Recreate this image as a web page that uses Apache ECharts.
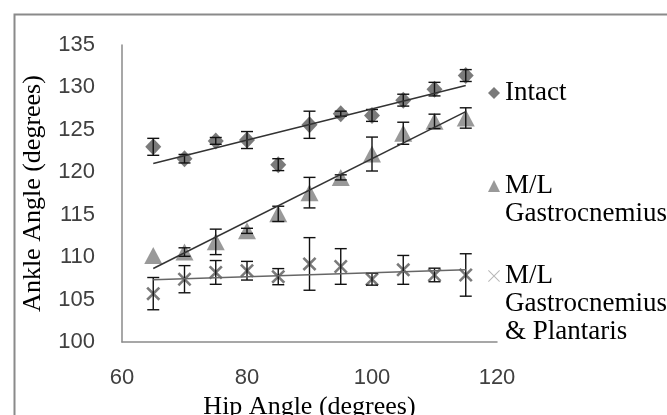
<!DOCTYPE html>
<html>
<head>
<meta charset="utf-8">
<script src="https://cdn.jsdelivr.net/npm/echarts@6/dist/echarts.min.js"></script>
<style>
  html, body { margin: 0; padding: 0; background: #fff; }
  #chart { width: 667px; height: 415px; }
</style>
</head>
<body>
<div id="chart"></div>
<script>
var hipAngles = [65, 70, 75, 80, 85, 90, 95, 100, 105, 110, 115];

var intactMean = [123.0, 121.6, 123.7, 123.8, 120.9, 125.6, 126.9, 126.7, 128.5, 129.8, 131.4];
var intactErr = [1.0, 0.5, 0.4, 1.0, 0.7, 1.6, 0.3, 0.7, 0.7, 0.8, 0.7];

var gastroMean = [110.2, 110.6, 111.8, 113.1, 115.1, 117.6, 119.4, 122.15, 124.6, 126.0, 126.4];
var gastroErr = [0, 0.5, 1.5, 0.3, 0.9, 1.8, 0.3, 2.0, 1.3, 0.85, 1.2];

var plantMean = [105.7, 107.4, 108.2, 108.4, 107.7, 109.2, 108.9, 107.4, 108.5, 107.9, 107.9];
var plantErr = [1.9, 1.6, 1.4, 1.1, 0.95, 3.1, 2.1, 0.7, 1.7, 0.8, 2.5];

var xTicks = [60, 80, 100, 120];
var yTicks = [100, 105, 110, 115, 120, 125, 130, 135];

var seriesNames = ['Intact', 'M/L Gastrocnemius', 'M/L Gastrocnemius & Plantaris'];

var xMarker = 'path://M0,1.3L1.3,0L5,3.7L8.7,0L10,1.3L6.3,5L10,8.7L8.7,10L5,6.3L1.3,10L0,8.7L3.7,5Z';
var xLegend = 'path://M0,0.6L0.6,0L5,4.4L9.4,0L10,0.6L5.6,5L10,9.4L9.4,10L5,5.6L0.6,10L0,9.4L4.4,5Z';

function points(ys) {
    return hipAngles.map(function (x, i) { return [x, ys[i]]; });
}

function errorData(ys, errs) {
    var out = [];
    hipAngles.forEach(function (x, i) {
        if (errs[i] > 0) out.push([x, ys[i] - errs[i], ys[i] + errs[i]]);
    });
    return out;
}

// least squares trendline, ends at first and last hip angle
function trend(ys) {
    var n = hipAngles.length, sx = 0, sy = 0, sxx = 0, sxy = 0;
    hipAngles.forEach(function (x, i) {
        sx += x; sy += ys[i]; sxx += x * x; sxy += x * ys[i];
    });
    var b = (n * sxy - sx * sy) / (n * sxx - sx * sx);
    var a = (sy - b * sx) / n;
    var x0 = hipAngles[0], x1 = hipAngles[n - 1];
    return [[x0, a + b * x0], [x1, a + b * x1]];
}

function renderError(params, api) {
    var x = api.value(0);
    var lo = api.coord([x, api.value(1)]);
    var hi = api.coord([x, api.value(2)]);
    var w = 6;
    var st = { stroke: '#111', lineWidth: 1.4 };
    return {
        type: 'group',
        children: [
            { type: 'line', shape: { x1: lo[0], y1: lo[1], x2: hi[0], y2: hi[1] }, style: st },
            { type: 'line', shape: { x1: hi[0] - w, y1: hi[1], x2: hi[0] + w, y2: hi[1] }, style: st },
            { type: 'line', shape: { x1: lo[0] - w, y1: lo[1], x2: lo[0] + w, y2: lo[1] }, style: st }
        ]
    };
}

function errSeries(ys, errs) {
    return {
        type: 'custom',
        renderItem: renderError,
        data: errorData(ys, errs),
        encode: { x: 0, y: [1, 2] },
        z: 4,
        silent: true
    };
}

function trendSeries(ys, color) {
    return {
        type: 'line',
        data: trend(ys),
        showSymbol: false,
        lineStyle: { color: color, width: 1.5 },
        z: 5,
        silent: true
    };
}

var serif = 'Liberation Serif';
var sans = 'Liberation Sans';

function legendBox(name, icon, color, text, top) {
    return {
        data: [{ name: name, icon: icon, itemStyle: { color: color } }],
        left: 488,
        top: top,
        padding: 0,
        itemWidth: 12,
        itemHeight: 12,
        selectedMode: false,
        formatter: function () { return text; },
        textStyle: { fontFamily: serif, fontSize: 27, color: '#000', lineHeight: 28 }
    };
}

var option = {
    animation: false,
    backgroundColor: '#fff',
    grid: { left: 122, right: 170, top: 45, bottom: 73, outerBoundsMode: 'none' },
    xAxis: {
        type: 'value',
        min: xTicks[0],
        max: xTicks[xTicks.length - 1],
        interval: 20,
        name: 'Hip Angle (degrees)',
        nameLocation: 'middle',
        nameGap: 50,
        nameTextStyle: { fontFamily: serif, fontSize: 26, color: '#000' },
        axisLine: { lineStyle: { color: '#8a8a8a', width: 1.5 } },
        axisTick: { show: false },
        splitLine: { show: false },
        axisLabel: { fontFamily: sans, fontSize: 22, color: '#404040', margin: 25 }
    },
    yAxis: {
        type: 'value',
        min: yTicks[0],
        max: yTicks[yTicks.length - 1],
        interval: 5,
        name: 'Ankle Angle (degrees)',
        nameLocation: 'middle',
        nameGap: 76,
        nameTextStyle: { fontFamily: serif, fontSize: 26, color: '#000' },
        axisLine: { show: true, lineStyle: { color: '#8a8a8a', width: 1.5 } },
        axisTick: { show: false },
        splitLine: { show: false },
        axisLabel: { fontFamily: sans, fontSize: 22, color: '#404040', margin: 27 }
    },
    legend: [
        legendBox(seriesNames[0], 'diamond', '#595959', 'Intact', 79),
        legendBox(seriesNames[1], 'triangle', '#808080', '\nM/L\nGastrocnemius', 144),
        legendBox(seriesNames[2], xLegend, '#a6a6a6', '\n\nM/L\nGastrocnemius\n& Plantaris', 206)
    ],
    graphic: [{
        type: 'rect',
        left: 12,
        top: 12,
        shape: { width: 700, height: 440 },
        style: { fill: 'none', stroke: '#8a8a8a', lineWidth: 2 },
        silent: true
    }],
    series: [
        {
            name: seriesNames[0],
            type: 'scatter',
            data: points(intactMean),
            symbol: 'diamond',
            symbolSize: [16, 17],
            itemStyle: { color: '#595959' },
            z: 3
        },
        {
            name: seriesNames[1],
            type: 'scatter',
            data: points(gastroMean),
            symbol: 'triangle',
            symbolSize: [18, 17],
            itemStyle: { color: '#808080' },
            z: 3
        },
        {
            name: seriesNames[2],
            type: 'scatter',
            data: points(plantMean),
            symbol: xMarker,
            symbolSize: 14,
            itemStyle: { color: '#595959' },
            z: 3
        },
        errSeries(intactMean, intactErr),
        errSeries(gastroMean, gastroErr),
        errSeries(plantMean, plantErr),
        trendSeries(intactMean, '#333333'),
        trendSeries(gastroMean, '#333333'),
        trendSeries(plantMean, '#666666')
    ]
};

var chart = echarts.init(document.getElementById('chart'));
chart.setOption(option);
</script>
</body>
</html>
